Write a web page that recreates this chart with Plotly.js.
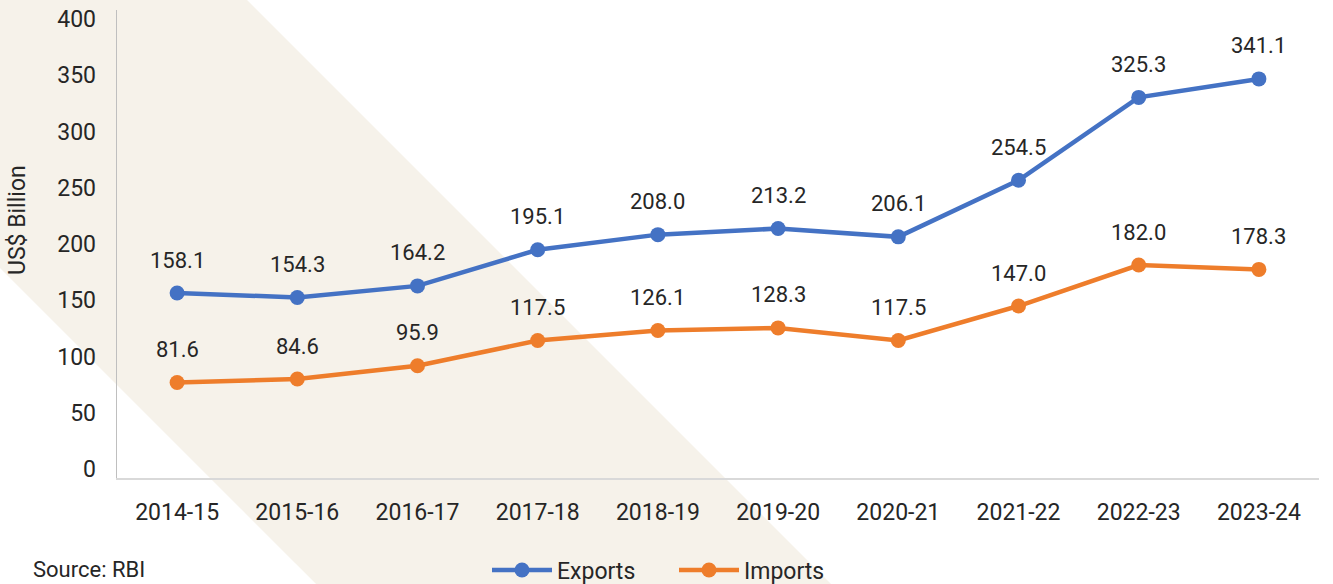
<!DOCTYPE html>
<html>
<head>
<meta charset="utf-8">
<script src="https://cdn.plot.ly/plotly-3.0.1.min.js"></script>
<style>
  html, body { margin: 0; padding: 0; background: #ffffff; }
  #chart { width: 1333px; height: 584px; }
</style>
</head>
<body>
<div id="chart"></div>
<script>
// ---- Data ----
const years = ["2014-15", "2015-16", "2016-17", "2017-18", "2018-19", "2019-20", "2020-21", "2021-22", "2022-23", "2023-24"];
const exportsVals = [158.1, 154.3, 164.2, 195.1, 208.0, 213.2, 206.1, 254.5, 325.3, 341.1];
const importsVals = [81.6, 84.6, 95.9, 117.5, 126.1, 128.3, 117.5, 147.0, 182.0, 178.3];
const yTicks = [0, 50, 100, 150, 200, 250, 300, 350, 400];
const seriesNames = ["Exports", "Imports"];
const seriesColors = ["#4472C4", "#EE7D2B"];

// ---- Layout geometry ----
const W = 1333, H = 584;
const M = { l: 117, r: 14, t: 10, b: 106, autoexpand: false };
const plotW = W - M.l - M.r, plotH = H - M.t - M.b;
const px = X => (X - M.l) / plotW;
const py = Y => (H - M.b - Y) / plotH;

// Decorative diagonal band in the background
const band = [[-268, 0], [247, 0], [831, 584], [316, 584]];
const bandPath = band.map((p, i) => (i ? "L" : "M") + px(p[0]).toFixed(4) + "," + py(p[1]).toFixed(4)).join(" ") + " Z";

const font = "Roboto, 'Open Sans', sans-serif";
const textColor = "#262626";

const traces = [exportsVals, importsVals].map((vals, i) => ({
  type: "scatter",
  mode: "lines+markers",
  name: seriesNames[i],
  x: years,
  y: vals,
  line: { color: seriesColors[i], width: 4.5 },
  marker: { color: seriesColors[i], size: 15 },
  hoverinfo: "x+y"
}));

// Data labels
const annotations = [];
[exportsVals, importsVals].forEach(vals => {
  vals.forEach((v, j) => {
    annotations.push({
      x: years[j], y: v, xref: "x", yref: "y",
      text: v.toFixed(1), showarrow: false, yshift: 33,
      font: { family: font, size: 22, color: textColor }
    });
  });
});
// Source note
annotations.push({
  xref: "paper", yref: "paper", x: px(31), y: py(584),
  xanchor: "left", yanchor: "bottom", showarrow: false,
  text: "Source: RBI",
  font: { family: font, size: 22, color: textColor }
});
// Y axis title
annotations.push({
  xref: "paper", yref: "paper", x: px(18), y: py(220),
  xanchor: "center", yanchor: "middle", showarrow: false, textangle: -90,
  text: "US$ Billion",
  font: { family: font, size: 23, color: textColor }
});

const layout = {
  width: W, height: H,
  margin: M,
  paper_bgcolor: "#ffffff",
  plot_bgcolor: "rgba(0,0,0,0)",
  showlegend: true,
  legend: {
    orientation: "h",
    x: px(487), xanchor: "left",
    y: py(570), yanchor: "middle",
    font: { family: font, size: 23, color: textColor },
    itemwidth: 60,
    entrywidth: 112,
    bgcolor: "rgba(0,0,0,0)"
  },
  xaxis: {
    type: "category",
    range: [-0.5, years.length - 0.5],
    showgrid: false, zeroline: false,
    showline: true, linecolor: "#d9d9d9", linewidth: 2,
    ticks: "", ticklabelstandoff: 12,
    tickfont: { family: font, size: 23, color: textColor },
    fixedrange: true
  },
  yaxis: {
    range: [0, 400],
    showgrid: false, zeroline: false,
    showline: true, linecolor: "#bfbfbf", linewidth: 1.5,
    showticklabels: false, ticks: "",
    fixedrange: true
  },
  yaxis2: {
    overlaying: "y", side: "left",
    range: [-8, 408],
    tickmode: "array", tickvals: yTicks, ticktext: yTicks.map(String),
    showgrid: false, zeroline: false, showline: false, ticks: "",
    ticklabelstandoff: 20,
    tickfont: { family: font, size: 23, color: textColor },
    fixedrange: true
  },
  shapes: [{
    type: "path", xref: "paper", yref: "paper", layer: "below",
    path: bandPath, fillcolor: "#f6f2ea", line: { width: 0 }
  }],
  annotations: annotations
};

// invisible trace to activate the label axis
traces.push({ type: "scatter", x: [years[0]], y: [0], yaxis: "y2", mode: "markers",
  marker: { opacity: 0 }, showlegend: false, hoverinfo: "skip" });

Plotly.newPlot("chart", traces, layout, { displayModeBar: false, staticPlot: true });
</script>
</body>
</html>
